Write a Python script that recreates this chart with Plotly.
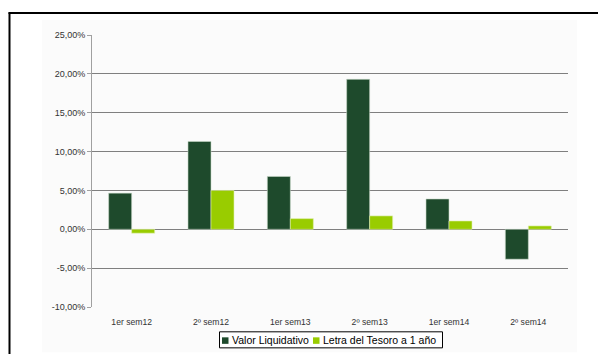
import plotly.graph_objects as go

categories = ["1er sem12", "2º sem12", "1er sem13", "2º sem13", "1er sem14", "2º sem14"]
valor_liquidativo = [4.65, 11.3, 6.8, 19.3, 3.9, -3.85]
letra_tesoro = [-0.5, 5.0, 1.37, 1.72, 1.07, 0.43]
y_ticks = [-10, -5, 0, 5, 10, 15, 20, 25]
y_tick_labels = [f"{v:.2f}".replace(".", ",") + "%" for v in y_ticks]
series_names = ["Valor Liquidativo", "Letra del Tesoro a 1 año"]
series_colors = ["#1E4A2C", "#99CC00"]

W, H = 598, 354
L, R, T, B = 92, 568, 35, 306.7

def px(x):
    return (x - L) / (R - L)

def py(y):
    return (B - y) / (B - T)

fig = go.Figure()
fig.add_trace(go.Bar(x=categories, y=valor_liquidativo, name=series_names[0],
                     marker=dict(color=series_colors[0], line=dict(color="#c8d8c8", width=0.6))))
fig.add_trace(go.Bar(x=categories, y=letra_tesoro, name=series_names[1],
                     marker=dict(color=series_colors[1], line=dict(color="#e0f0b0", width=0.6))))

tfont = dict(family="Liberation Sans, Arial, sans-serif", size=9, color="#333333")
xfont = dict(family="Liberation Sans, Arial, sans-serif", size=8.6, color="#333333")

shapes = [
    dict(type="rect", xref="paper", yref="paper", layer="below",
         x0=px(42), x1=px(577), y0=py(352), y1=py(20),
         fillcolor="#fbfbfb", line=dict(width=0)),
    dict(type="line", xref="paper", yref="paper",
         x0=px(9.5), x1=px(9.5), y0=py(12.5), y1=py(360),
         line=dict(color="#000000", width=2)),
    dict(type="line", xref="paper", yref="paper",
         x0=px(8.5), x1=px(600), y0=py(13), y1=py(13),
         line=dict(color="#000000", width=2)),
    # legend box
    dict(type="rect", xref="paper", yref="paper",
         x0=px(219.5), x1=px(442.5), y0=py(347.5), y1=py(331.5),
         fillcolor="white", line=dict(color="#000000", width=1)),
]
annotations = []
legend_sq_x = [222, 313]
legend_txt_x = [231, 322]
for i in range(2):
    shapes.append(dict(type="rect", xref="paper", yref="paper",
                       x0=px(legend_sq_x[i]), x1=px(legend_sq_x[i] + 6.5),
                       y0=py(343.5), y1=py(337),
                       fillcolor=series_colors[i], line=dict(width=0)))
    annotations.append(dict(text=series_names[i], xref="paper", yref="paper",
                            x=px(legend_txt_x[i]), y=py(339.8), xanchor="left", yanchor="middle",
                            showarrow=False, xshift=-1,
                            font=dict(family="Liberation Sans, Arial, sans-serif", size=10.5, color="#000000")))

fig.update_layout(
    width=W, height=H,
    margin=dict(l=L, r=W - R, t=T, b=H - B, autoexpand=False),
    paper_bgcolor="white", plot_bgcolor="rgba(0,0,0,0)",
    barmode="group", bargap=0.42, bargroupgap=0,
    showlegend=False,
    xaxis=dict(showgrid=False, showline=False, ticks="", tickfont=xfont,
               ticklabelstandoff=8, fixedrange=True),
    yaxis=dict(range=[-10, 25], tickvals=y_ticks, ticktext=y_tick_labels,
               showgrid=True, gridcolor="#7f7f7f", gridwidth=1,
               zeroline=True, zerolinecolor="#7f7f7f", zerolinewidth=1,
               showline=True, linecolor="#a0a0a0", linewidth=1,
               ticks="outside", ticklen=4, tickcolor="#a0a0a0", tickfont=tfont),
    shapes=shapes,
    annotations=annotations,
)

fig.write_html("out.html")
